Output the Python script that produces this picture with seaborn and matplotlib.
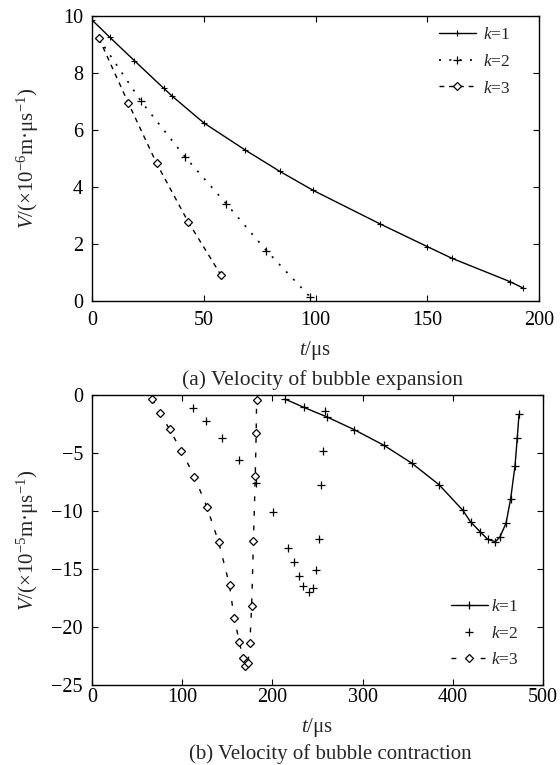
import matplotlib
matplotlib.use("Agg")
import matplotlib.pyplot as plt
import seaborn as sns
import numpy as np

# ---------------- data: (a) expansion ----------------
t_a1 = [0, 8, 19, 32, 36, 50, 68.5, 84, 99, 129, 150, 161, 187, 193]
v_a1 = [9.86, 9.25, 8.43, 7.47, 7.18, 6.25, 5.30, 4.55, 3.88, 2.70, 1.91, 1.50, 0.68, 0.45]
t_a2 = [3, 22, 41.6, 60, 78, 97.5]
v_a2 = [9.22, 7.0, 5.06, 3.42, 1.77, 0.15]
t_a3 = [3.1, 16.3, 28.9, 43, 57.7]
v_a3 = [9.22, 6.94, 4.83, 2.78, 0.91]

# ---------------- data: (b) contraction ----------------
t_b1 = [214, 235, 260.2, 290.5, 323.7, 354.4, 384.7, 410.9, 419.7, 430.2, 438.7,
        447.2, 452.3, 459, 464.1, 469, 471.5, 473.4]
v_b1 = [-0.35, -1.07, -1.88, -2.98, -4.34, -5.87, -7.73, -9.92, -10.94, -11.78, -12.44,
        -12.65, -12.24, -11.05, -8.97, -6.08, -3.67, -1.68]
t_b2 = [112.3, 126.4, 143.8, 163.3, 182.2, 200.7, 217.6, 224.3, 229.9, 234.3, 240.9,
        245.4, 248.3, 251.3, 254.2, 256.5, 258.3]
v_b2 = [-1.1, -2.2, -3.7, -5.6, -7.6, -10.06, -13.16, -14.37, -15.6, -16.5, -17.0,
        -16.6, -15.1, -12.4, -7.76, -4.8, -1.36]
t_b3 = [66.5, 75, 86, 99, 113.5, 127.5, 140.5, 152.5, 157.5, 163.5, 167, 170, 173,
        175, 177, 179, 181, 182, 182.5]
v_b3 = [-0.34, -1.52, -2.96, -4.8, -7.04, -9.68, -12.7, -16.4, -19.2, -21.3, -22.65,
        -23.4, -23.1, -21.4, -18.2, -12.6, -7.0, -3.3, -0.43]

labels = [r"$k$=1", r"$k$=2", r"$k$=3"]
xticks_a = [0, 50, 100, 150, 200]
yticks_a = [0, 2, 4, 6, 8, 10]
xticks_b = [0, 100, 200, 300, 400, 500]
yticks_b = [0, -5, -10, -15, -20, -25]

sns.set_style("ticks")
plt.rcParams.update({
    "font.family": ["Liberation Serif", "DejaVu Serif"],
    "mathtext.fontset": "custom",
    "mathtext.rm": "Liberation Serif",
    "mathtext.it": "Liberation Serif:italic",
    "mathtext.bf": "Liberation Serif:bold",
    "axes.edgecolor": "black",
    "axes.linewidth": 1.0,
    "xtick.direction": "in",
    "ytick.direction": "in",
    "xtick.top": True,
    "ytick.right": True,
    "xtick.color": "black",
    "ytick.color": "black",
    "xtick.major.size": 4,
    "ytick.major.size": 4,
    "font.size": 14,
})

fig = plt.figure(figsize=(5.6, 7.65), dpi=100)
ax1 = fig.add_axes([92 / 560, 1 - 301 / 765, 447 / 560, 285 / 765])
ax2 = fig.add_axes([92 / 560, 1 - 685 / 765, 451 / 560, 290 / 765])

common = dict(estimator=None, sort=False, color="black")
mk = dict(markeredgecolor="black")

# (a)
sns.lineplot(x=t_a1, y=v_a1, ax=ax1, linestyle="-", linewidth=1.0, marker="+",
             markersize=4, markeredgewidth=0.8, label=labels[0], **mk, **common)
sns.lineplot(x=t_a2, y=v_a2, ax=ax1, linestyle=(0, (1.2, 5)), linewidth=1.2, marker="+",
             markersize=6, markeredgewidth=0.9, label=labels[1], **mk, **common)
sns.lineplot(x=t_a3, y=v_a3, ax=ax1, linestyle=(0, (3.5, 3.5)), linewidth=1.0, marker="D",
             markersize=4.5, markerfacecolor="white",
             markeredgewidth=0.9, label=labels[2], **mk, **common)

# (b)
sns.lineplot(x=t_b1, y=v_b1, ax=ax2, linestyle="-", linewidth=1.0, marker="+",
             markersize=5.5, markeredgewidth=0.9, label=labels[0], **mk, **common)
sns.lineplot(x=t_b2, y=v_b2, ax=ax2, linestyle="none", marker="+",
             markersize=5.5, markeredgewidth=0.9, label=labels[1], **mk, **common)
sns.lineplot(x=t_b3, y=v_b3, ax=ax2, linestyle=(0, (3.5, 7)), linewidth=1.0, marker="D",
             markersize=4.5, markerfacecolor="white",
             markeredgewidth=0.9, label=labels[2], **mk, **common)

ax1.set_xlim(0, 200)
ax1.set_ylim(0, 10)
ax1.set_xticks(xticks_a)
ax1.set_yticks(yticks_a)
ax2.set_xlim(0, 500)
ax2.set_ylim(-25, 0)
ax2.set_xticks(xticks_b)
ax2.set_yticks(yticks_b)

for ax in (ax1, ax2):
    ax.tick_params(labelsize=14.5, width=0.8)
    ax.tick_params(axis="y", pad=6.5)
    for s in ax.spines.values():
        s.set_visible(True)
        s.set_color("black")
ax1.tick_params(axis="x", pad=7)
ax2.tick_params(axis="x", pad=2.5)

ax1.set_xlabel(r"$t$/μs", fontsize=15)
ax2.set_xlabel(r"$t$/μs", fontsize=15)
ax1.xaxis.set_label_coords(0.5, (301 - 339) / 285)
ax2.xaxis.set_label_coords(0.5, (685 - 716) / 290)

ax1.set_ylabel(r"$V$/(×10$^{-6}$m·μs$^{-1}$)", fontsize=15)
ax2.set_ylabel(r"$V$/(×10$^{-5}$m·μs$^{-1}$)", fontsize=15)
ax1.yaxis.set_label_coords((41 - 92) / 447, 0.5)
ax2.yaxis.set_label_coords((41 - 92) / 451, 0.5)

ax1.legend(loc="upper left", frameon=False, fontsize=12.5, handlelength=2.1,
           handletextpad=0.4, labelspacing=0.6, borderaxespad=0.0, borderpad=0.3,
           bbox_to_anchor=((434 - 92) / 447, (301 - 22) / 285))
ax2.legend(loc="upper left", frameon=False, fontsize=12.5, handlelength=2.1,
           handletextpad=0.2, labelspacing=0.6, borderaxespad=0.0, borderpad=0.3,
           bbox_to_anchor=((446 - 92) / 451, (685 - 594) / 290))

fig.text(322 / 560, 1 - 380 / 765, "(a) Velocity of bubble expansion",
         ha="center", va="center", fontsize=15.5)
fig.text(330 / 560, 0.5 / 765, "(b) Velocity of bubble contraction",
         ha="center", va="bottom", fontsize=15)

fig.savefig("out.png", dpi=100)
